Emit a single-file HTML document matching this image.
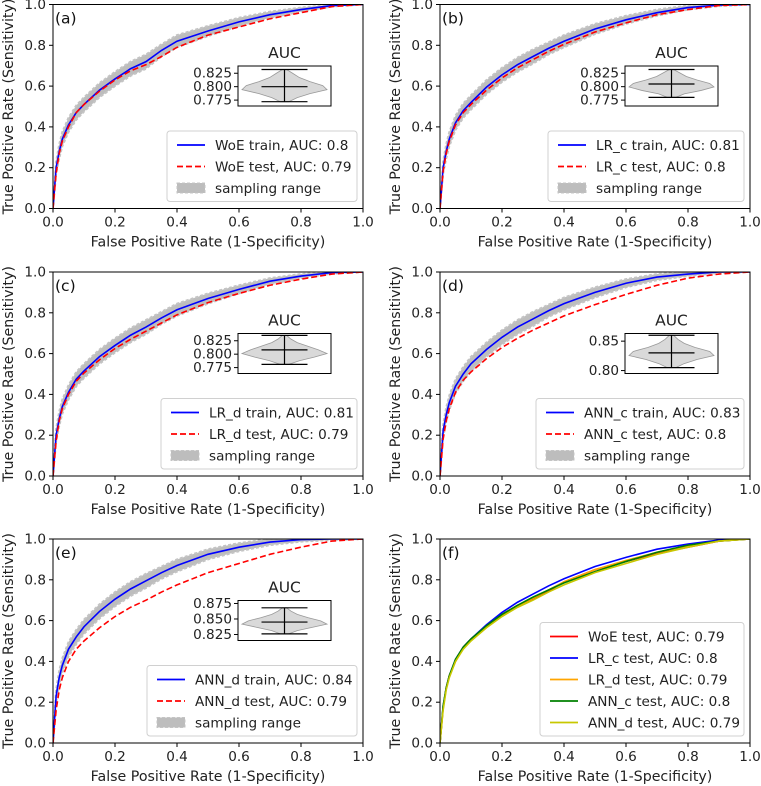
<!DOCTYPE html>
<html><head><meta charset="utf-8">
<style>
body{margin:0;background:#fff;}
svg{display:block;font-family:"DejaVu Sans","Liberation Sans",sans-serif;}
</style></head>
<body>
<svg id="fig" width="761" height="786" viewBox="0 0 761 786" xmlns="http://www.w3.org/2000/svg"></svg>
<script>
const fprGrid=[0,0.01,0.02,0.03,0.05,0.075,0.1,0.15,0.2,0.25,0.3,0.35,0.4,0.5,0.6,0.7,0.8,0.9,1.0];
const woeTrain=[0,0.2,0.28,0.34,0.41,0.47,0.51,0.58,0.635,0.685,0.72,0.775,0.82,0.87,0.915,0.95,0.975,0.995,1];
const woeTest=[0,0.17,0.27,0.33,0.40,0.47,0.51,0.575,0.63,0.675,0.705,0.745,0.79,0.85,0.89,0.93,0.96,0.99,1];
const lrcTrain=[0,0.2,0.28,0.34,0.42,0.48,0.52,0.595,0.655,0.705,0.745,0.785,0.82,0.88,0.925,0.96,0.985,0.997,1];
const lrcTest=[0,0.18,0.27,0.33,0.41,0.47,0.51,0.58,0.64,0.69,0.73,0.77,0.805,0.865,0.91,0.95,0.975,0.995,1];
const lrdTrain=[0,0.2,0.28,0.34,0.41,0.475,0.515,0.585,0.64,0.69,0.73,0.775,0.815,0.87,0.915,0.955,0.98,0.997,1];
const lrdTest=[0,0.17,0.27,0.33,0.40,0.465,0.505,0.57,0.625,0.67,0.71,0.75,0.79,0.85,0.895,0.935,0.965,0.99,1];
const anncTrain=[0,0.22,0.3,0.36,0.44,0.5,0.55,0.62,0.68,0.73,0.77,0.81,0.845,0.9,0.945,0.975,0.99,1,1];
const anncTest=[0,0.18,0.27,0.33,0.41,0.47,0.51,0.575,0.63,0.675,0.715,0.75,0.785,0.84,0.89,0.935,0.97,0.99,1];
const anndTrain=[0,0.23,0.32,0.38,0.46,0.52,0.57,0.645,0.705,0.755,0.795,0.835,0.87,0.925,0.96,0.985,0.997,1,1];
const anndTest=[0,0.16,0.26,0.32,0.40,0.46,0.50,0.565,0.62,0.665,0.70,0.74,0.775,0.835,0.88,0.925,0.96,0.99,1];
const bandHalf=[0,0.03,0.035,0.035,0.035,0.035,0.035,0.035,0.035,0.035,0.035,0.03,0.03,0.025,0.02,0.015,0.01,0.005,0];
const axisTicks=[0,0.2,0.4,0.6,0.8,1.0];
const tickLabels=["0.0","0.2","0.4","0.6","0.8","1.0"];
const violinStats={a:[0.772,0.800,0.832],b:[0.780,0.805,0.832],c:[0.781,0.808,0.835],d:[0.805,0.830,0.860],e:[0.826,0.845,0.868]};
const violinDensity={a:[0.1,0.3,0.6,1,0.9,0.6,0.35,0.2,0.05],b:[0.1,0.3,0.7,1,0.9,0.6,0.35,0.2,0.05],c:[0.1,0.35,0.7,1,0.8,0.55,0.3,0.15,0.05],d:[0.1,0.3,0.6,1,0.9,0.55,0.3,0.15,0.05],e:[0.1,0.3,0.65,1,0.85,0.55,0.3,0.15,0.05]};
const violinLim={a:[0.764,0.8385],b:[0.764,0.8385],c:[0.764,0.8385],d:[0.795,0.863],e:[0.8153,0.8798]};
const violinTicks={a:[0.775,0.800,0.825],b:[0.775,0.800,0.825],c:[0.775,0.800,0.825],d:[0.80,0.85],e:[0.825,0.850,0.875]};
const violinTickLabels={a:["0.775","0.800","0.825"],b:["0.775","0.800","0.825"],c:["0.775","0.800","0.825"],d:["0.80","0.85"],e:["0.825","0.850","0.875"]};

const NS="http://www.w3.org/2000/svg";
const fig=document.getElementById('fig');
function el(tag,attrs,parent,text){const e=document.createElementNS(NS,tag);for(const k in attrs)e.setAttribute(k,attrs[k]);if(text!==undefined)e.textContent=text;(parent||fig).appendChild(e);return e;}

const W=310,H=204,FS=13.6;
const panels=[
 {id:'a',x:53,y:4.5,series:[[woeTrain,'#0000ff',false,'WoE train, AUC: 0.8'],[woeTest,'#ff0000',true,'WoE test, AUC: 0.79']],legW:190,band:woeTrain},
 {id:'b',x:440,y:4.5,series:[[lrcTrain,'#0000ff',false,'LR_c train, AUC: 0.81'],[lrcTest,'#ff0000',true,'LR_c test, AUC: 0.8']],legW:196,band:lrcTrain},
 {id:'c',x:53,y:272,series:[[lrdTrain,'#0000ff',false,'LR_d train, AUC: 0.81'],[lrdTest,'#ff0000',true,'LR_d test, AUC: 0.79']],legW:196,band:lrdTrain},
 {id:'d',x:440,y:272,series:[[anncTrain,'#0000ff',false,'ANN_c train, AUC: 0.83'],[anncTest,'#ff0000',true,'ANN_c test, AUC: 0.8']],legW:208,band:anncTrain},
 {id:'e',x:53,y:539,series:[[anndTrain,'#0000ff',false,'ANN_d train, AUC: 0.84'],[anndTest,'#ff0000',true,'ANN_d test, AUC: 0.79']],legW:210,band:anndTrain},
 {id:'f',x:440,y:539,series:[[woeTest,'#ff0000',false,'WoE test, AUC: 0.79'],[lrcTest,'#0000ff',false,'LR_c test, AUC: 0.8'],[lrdTest,'#ffa500',false,'LR_d test, AUC: 0.79'],[anncTest,'#008000',false,'ANN_c test, AUC: 0.8'],[anndTest,'#c8c800',false,'ANN_d test, AUC: 0.79']],legW:204,band:null}
];

panels.forEach(p=>{
 const g=el('g',{});
 
 
 const sx=v=>p.x+v*W, sy=v=>p.y+H-v*H;
 const clip=el('clipPath',{id:'clip'+p.id},g);el('rect',{x:p.x,y:p.y,width:W,height:H},clip);
 const plot=el('g',{'clip-path':'url(#clip'+p.id+')'},g);
 if(p.band){
  let d='';
  fprGrid.forEach((x,i)=>{d+=(i?'L':'M')+sx(x)+','+sy(Math.min(1,p.band[i]+bandHalf[i]));});
  for(let i=fprGrid.length-1;i>=0;i--)d+='L'+sx(fprGrid[i])+','+sy(Math.max(0,p.band[i]-bandHalf[i]));
  const b=el('path',{d:d+'Z',fill:'#bdbdbd',stroke:'#c4c4c4','stroke-width':2,'stroke-dasharray':'3,2'},plot);
  
  
 }
 p.series.forEach((s,si)=>{
  const d=fprGrid.map((x,i)=>(i?'L':'M')+sx(x)+','+sy(s[0][i])).join('');
  const l=el('path',{d:d,fill:'none',stroke:s[1],'stroke-width':1.6,'stroke-dasharray':s[2]?'6,3':'none'},plot);
  
  
 });
 el('rect',{x:p.x,y:p.y,width:W,height:H,fill:'none',stroke:'#000','stroke-width':1},g);
 axisTicks.forEach((t,i)=>{
  el('line',{x1:sx(t),x2:sx(t),y1:p.y+H,y2:p.y+H+4,stroke:'#000'},g);
  const xt=el('text',{x:sx(t),y:p.y+H+18,'font-size':FS,'text-anchor':'middle',fill:'#222'},g,tickLabels[i]);
  
  
  el('line',{x1:p.x-4,x2:p.x,y1:sy(t),y2:sy(t),stroke:'#000'},g);
  const yt=el('text',{x:p.x-7,y:sy(t)+4.5,'font-size':FS,'text-anchor':'end',fill:'#222'},g,tickLabels[i]);
  
  
 });
 const xl=el('text',{x:p.x+W/2,y:p.y+H+38,'font-size':14.2,'text-anchor':'middle',fill:'#222'},g,'False Positive Rate (1-Specificity)');
 
 
 const yl=el('text',{x:0,y:0,'font-size':14.2,'text-anchor':'middle',fill:'#222',transform:`translate(${p.x-40},${p.y+H/2}) rotate(-90)`},g,'True Positive Rate (Sensitivity)');
 
 
 const pl=el('text',{x:p.x+2,y:p.y+19,'font-size':15.5,fill:'#111'},g,'('+p.id+')');
 
 
 const n=p.series.length+(p.band?1:0);
 const lh=n*21.5+6;
 const lx=p.x+W-6-p.legW, ly=p.y+H-7-lh;
 const lg=el('g',{},g);
 
 
 el('rect',{x:lx,y:ly,width:p.legW,height:lh,rx:3,fill:'#fff','fill-opacity':0.85,stroke:'#d0d0d0'},lg);
 p.series.forEach((s,i)=>{
  const yy=ly+14+i*21.5;
  el('line',{x1:lx+10,x2:lx+38,y1:yy,y2:yy,stroke:s[1],'stroke-width':1.8,'stroke-dasharray':s[2]?'6,3':'none'},lg);
  const t=el('text',{x:lx+48,y:yy+5,'font-size':FS,fill:'#222'},lg,s[3]);
  
  
 });
 if(p.band){
  const yy=ly+14+p.series.length*21.5;
  el('rect',{x:lx+10,y:yy-5,width:28,height:10,fill:'#bdbdbd',stroke:'#c4c4c4','stroke-dasharray':'3,2'},lg);
  const t=el('text',{x:lx+48,y:yy+5,'font-size':FS,fill:'#222'},lg,'sampling range');
  
  
 }
 if(violinStats[p.id]){
  const ix=p.x+185,iy=p.y+61.5,iw=93,ih=40;
  const lim=violinLim[p.id];
  const vy=v=>iy+ih-(v-lim[0])/(lim[1]-lim[0])*ih;
  const ig=el('g',{},g);
  
  
  const it=el('text',{x:ix+iw/2,y:iy-8,'font-size':15.5,'text-anchor':'middle',fill:'#222'},ig,'AUC');
  
  
  const st=violinStats[p.id],den=violinDensity[p.id];
  const cx=ix+iw/2,maxW=iw/2-4;
  const lv=den.map((_,i)=>st[0]+(st[2]-st[0])*i/(den.length-1));
  let d='';
  lv.forEach((v,i)=>{d+=(i?'L':'M')+(cx+den[i]*maxW)+','+vy(v);});
  for(let i=lv.length-1;i>=0;i--)d+='L'+(cx-den[i]*maxW)+','+vy(lv[i]);
  el('path',{d:d+'Z',fill:'#d9d9d9',stroke:'#999','stroke-width':0.8},ig);
  el('line',{x1:cx,x2:cx,y1:vy(st[0]),y2:vy(st[2]),stroke:'#000','stroke-width':1.2},ig);
  st.forEach(v=>el('line',{x1:cx-23,x2:cx+23,y1:vy(v),y2:vy(v),stroke:'#000','stroke-width':1.2},ig));
  el('rect',{x:ix,y:iy,width:iw,height:ih,fill:'none',stroke:'#000'},ig);
  violinTicks[p.id].forEach((t,i)=>{
   el('line',{x1:ix-4,x2:ix,y1:vy(t),y2:vy(t),stroke:'#000'},ig);
   el('text',{x:ix-6,y:vy(t)+4.5,'font-size':FS,'text-anchor':'end',fill:'#222'},ig,violinTickLabels[p.id][i]);
  });
 }
});
</script>
</body></html>
